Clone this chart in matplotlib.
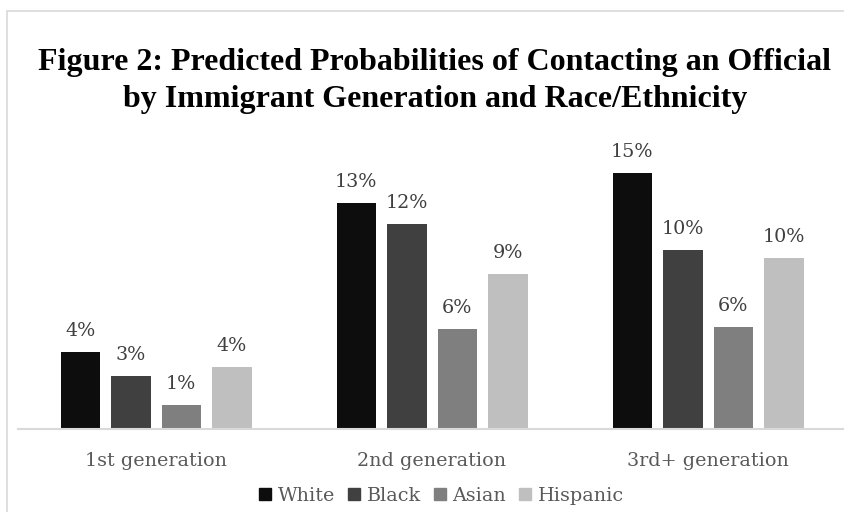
import matplotlib
matplotlib.use("Agg")
import matplotlib.pyplot as plt
from matplotlib.lines import Line2D
from matplotlib.patches import Rectangle
from matplotlib.transforms import blended_transform_factory
import numpy as np

plt.rcParams['font.family'] = ['DejaVu Serif', 'Liberation Serif']

categories = ["1st generation", "2nd generation", "3rd+ generation"]
series_names = ["White", "Black", "Asian", "Hispanic"]
white = [0.0446, 0.1308, 0.1484]
black = [0.0305, 0.1183, 0.1034]
asian = [0.0139, 0.0576, 0.0586]
hispanic = [0.0354, 0.0894, 0.0989]
colors = ["#0d0d0d", "#404040", "#7f7f7f", "#bfbfbf"]
title_lines = ["Figure 2: Predicted Probabilities of Contacting an Official",
               "by Immigrant Generation and Race/Ethnicity"]

W, H = 844, 512
fig = plt.figure(figsize=(W / 100, H / 100), dpi=100)

# chart border
fig.patches.append(Rectangle((7 / W, -0.1), 1.2, 1 - 11 / H + 0.1, transform=fig.transFigure,
                             fill=False, edgecolor="#d9d9d9", linewidth=1.2))

base_y = 428.5
ymax = 0.18
scale = 17.25  # px per 1%
ax_h = ymax * 100 * scale
ax = fig.add_axes([18 / W, (H - base_y) / H, 828 / W, ax_h / H])
ax.set_xlim(-0.5, 2.5)
ax.set_ylim(0, ymax)

x = np.arange(len(categories))
bw = 39.5 / 276
step = 50.5 / 276
all_series = [white, black, asian, hispanic]
fs = 13.8
for i, (vals, c, name) in enumerate(zip(all_series, colors, series_names)):
    pos = x + (i - 1.5) * step
    ax.bar(pos, vals, width=bw, color=c, label=name, zorder=2)
    for p, v in zip(pos, vals):
        ax.annotate(f"{v:.0%}", (p, v), xytext=(0, 11.5), textcoords="offset points",
                    ha="center", va="baseline", fontsize=fs, color="#404040")

for s in ["top", "right", "left"]:
    ax.spines[s].set_visible(False)
ax.spines["bottom"].set_color("#d9d9d9")
ax.spines["bottom"].set_linewidth(1.5)
ax.set_yticks([])
ax.set_xticks(x)
ax.set_xticklabels([])
ax.tick_params(axis="x", length=0)
ax.patch.set_alpha(0)

tr = blended_transform_factory(ax.transData, fig.transFigure)
for xi, cat in zip(x, categories):
    ax.text(xi, 1 - 466 / H, cat, transform=tr, ha="center", va="baseline",
            fontsize=fs, color="#595959")

# title
for yy, line in zip([70, 107], title_lines):
    fig.text(435 / W, 1 - yy / H, line, ha="center", va="baseline",
             fontsize=23, fontweight="bold", color="black", family="Liberation Serif")

handles = [Line2D([], [], marker="s", linestyle="none", markersize=9,
                  markerfacecolor=c, markeredgecolor=c) for c in colors]
leg = fig.legend(handles, series_names, loc="center", bbox_to_anchor=(441 / W, 1 - 496 / H),
                 ncol=4, frameon=False, fontsize=fs, handlelength=0.7, handletextpad=0.3,
                 columnspacing=0.65, borderpad=0)
for t in leg.get_texts():
    t.set_color("#595959")

fig.savefig("out.png", dpi=100)
